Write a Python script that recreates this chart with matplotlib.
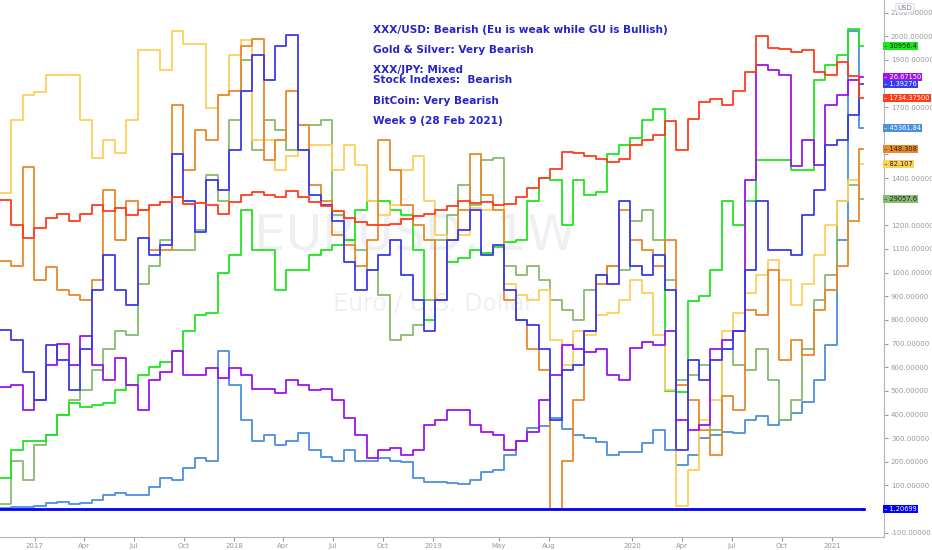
import matplotlib
matplotlib.use("Agg")
import matplotlib.pyplot as plt
import matplotlib.transforms as mtransforms
import pandas as pd

# weekly chart sampled every 3 weeks, values on the overlay "USD" scale
dates = pd.date_range("2016-10-29", periods=76, freq="21D")

gold = [1307, 1200, 1146, 1190, 1230, 1250, 1220, 1250, 1285, 1260,
        1275, 1245, 1265, 1285, 1300, 1320, 1290, 1295, 1285, 1250,
        1300, 1330, 1340, 1330, 1320, 1345, 1320, 1300, 1280, 1260,
        1230, 1215, 1200, 1200, 1205, 1225, 1240, 1250, 1265, 1280,
        1305, 1295, 1300, 1285, 1290, 1320, 1360, 1400, 1440, 1510,
        1505, 1495, 1480, 1470, 1480, 1540, 1560, 1580, 1640, 1520,
        1650, 1720, 1735, 1710, 1770, 1850, 2000, 1950, 1945, 1935,
        1940, 1850, 1835, 1890, 1830, 1739]

dow = [130, 250, 290, 290, 315, 400, 450, 430, 440, 450,
       505, 525, 565, 600, 620, 670, 755, 820, 830, 1000,
       1075, 1265, 1095, 1095, 925, 1010, 1010, 1075, 1095, 1115,
       1140, 1265, 1305, 1305, 1265, 1245, 1095, 800, 885, 1045,
       1060, 1095, 1085, 1110, 1130, 1140, 1305, 1400, 1390, 1200,
       1390, 1330, 1340, 1500, 1540, 1570, 1645, 1690, 500, 495,
       880, 900, 1010, 1305, 1200, 1305, 1475, 1475, 1475, 1435,
       1435, 1815, 1880, 1920, 2030, 1958]

silver = [515, 525, 420, 460, 610, 700, 610, 730, 610, 545,
          640, 525, 420, 545, 580, 670, 565, 565, 595, 555,
          595, 565, 510, 510, 490, 545, 525, 505, 510, 460,
          385, 315, 215, 250, 260, 230, 250, 355, 375, 420,
          420, 355, 325, 315, 250, 290, 325, 460, 565, 695,
          675, 665, 675, 565, 545, 680, 705, 695, 755, 375,
          335, 355, 675, 715, 755, 1390, 1880, 1855, 1835, 1450,
          1560, 1455, 1710, 1750, 1815, 1827]

gbpusd = [757, 715, 580, 460, 695, 630, 505, 675, 925, 1075,
          925, 865, 1145, 1075, 1115, 1500, 1305, 1170, 1390, 1350,
          1520, 1770, 1920, 1815, 1960, 2005, 1520, 1330, 1285, 1220,
          1045, 925, 1010, 1075, 1140, 990, 885, 755, 885, 1140,
          1180, 1265, 1075, 1115, 925, 800, 780, 675, 375, 590,
          610, 755, 990, 950, 1305, 1030, 990, 1075, 925, 250,
          630, 545, 630, 675, 755, 1010, 1305, 1095, 1095, 1075,
          1245, 1350, 1540, 1560, 1665, 1798]

btc = [5, 10, 10, 15, 25, 30, 20, 25, 40, 60,
       70, 60, 60, 95, 130, 125, 175, 215, 205, 670,
       525, 375, 290, 315, 270, 290, 320, 250, 220, 205,
       250, 205, 205, 215, 205, 200, 130, 115, 115, 110,
       105, 125, 155, 165, 230, 290, 345, 350, 385, 340,
       315, 300, 285, 230, 240, 240, 280, 335, 250, 185,
       230, 300, 315, 325, 320, 375, 395, 355, 375, 405,
       455, 545, 695, 1140, 2020, 1612]

gbpjpy = [1050, 1030, 1445, 970, 1025, 925, 905, 885, 970, 1350,
          1140, 1305, 1265, 1095, 1095, 1710, 1435, 1605, 1560, 1750,
          1770, 1960, 1990, 1475, 1560, 1770, 1625, 1370, 1305, 1160,
          1115, 1030, 1140, 1560, 1435, 1285, 1200, 1140, 885, 1140,
          1265, 1500, 1330, 1265, 885, 800, 675, 590, 0, 205,
          460, 755, 950, 1030, 1265, 1140, 1095, 1030, 1140, 525,
          460, 335, 230, 480, 420, 840, 820, 1010, 630, 715,
          650, 840, 925, 1030, 1220, 1523]

audjpy = [1335, 1645, 1750, 1765, 1835, 1835, 1835, 1645, 1485, 1560,
          1505, 1645, 1940, 1940, 1855, 2020, 1965, 1965, 1695, 1750,
          1920, 1985, 1560, 1560, 1435, 1495, 1520, 1540, 1540, 1435,
          1540, 1455, 1305, 1245, 1285, 1435, 1495, 1305, 1160, 1140,
          1160, 1275, 1265, 1285, 950, 905, 885, 925, 715, 610,
          755, 735, 820, 830, 885, 970, 915, 735, 505, 15,
          165, 375, 460, 755, 830, 915, 990, 1055, 970, 865,
          950, 1075, 1200, 1305, 1390, 1459]

nikkei = [20, 205, 125, 270, 315, 400, 460, 505, 590, 675,
          755, 735, 950, 1030, 1140, 1095, 1095, 1180, 1415, 1305,
          1645, 1900, 1520, 1645, 1605, 1520, 1625, 1625, 1645, 1245,
          1140, 1095, 1010, 905, 715, 735, 780, 885, 1140, 1245,
          1370, 1285, 1475, 1485, 1030, 990, 1030, 970, 885, 840,
          800, 925, 990, 1030, 1010, 1220, 1265, 1140, 970, 545,
          565, 610, 335, 675, 610, 590, 675, 545, 375, 460,
          675, 885, 990, 1305, 1370, 1311]

eur_dates = pd.to_datetime(["2016-10-29", "2017-01-01", "2017-04-01", "2017-07-01",
                            "2017-10-01", "2018-01-01", "2018-04-01", "2018-07-01",
                            "2018-10-01", "2019-01-01", "2019-04-01", "2019-07-01",
                            "2019-10-01", "2020-01-01", "2020-04-01", "2020-07-01",
                            "2020-10-01", "2021-01-01", "2021-02-28"])
eurusd = [1.09, 1.06, 1.07, 1.14, 1.18, 1.20, 1.23, 1.17, 1.16, 1.14,
          1.12, 1.14, 1.10, 1.12, 1.10, 1.12, 1.17, 1.22, 1.207]

series = [
    ("BTCUSD", btc, "#4b8fde", "45361.84", "white"),
    ("JP225", nikkei, "#86bb70", "29057.6", "#222222"),
    ("US30", dow, "#1ee61e", "30956.4", "#222222"),
    ("AUDJPY", audjpy, "#ffcf5c", "82.107", "#222222"),
    ("GBPJPY", gbpjpy, "#e8892b", "148.308", "#222222"),
    ("XAGUSD", silver, "#9a14f0", "26.67150", "white"),
    ("GBPUSD", gbpusd, "#3a3aee", "1.39276", "white"),
    ("XAUUSD", gold, "#ff3d1a", "1734.37500", "white"),
]

notes = ["XXX/USD: Bearish (Eu is weak while GU is Bullish)",
         "Gold & Silver: Very Bearish",
         "XXX/JPY: Mixed\nStock Indexes:  Bearish",
         "BitCoin: Very Bearish",
         "Week 9 (28 Feb 2021)"]

fig = plt.figure(figsize=(9.32, 5.5), dpi=100)
ax = fig.add_axes([0, 13 / 550, 884 / 932, 537 / 550])

end = dates[-1] + pd.Timedelta(days=7)
for name, vals, col, lab, tcol in series:
    ax.step(list(dates) + [end], vals + [vals[-1]], where="post", color=col, lw=1.3)
ax.step(list(eur_dates) + [end], eurusd + [eurusd[-1]], where="post", color="#0000ff", lw=2)

ax.set_xlim(pd.Timestamp("2016-10-29"), pd.Timestamp("2021-04-06"))
ax.set_ylim(-118, 2153)

# faint watermark
ax.text(0.47, 0.56, "EURUSD, 1W", transform=ax.transAxes, fontsize=36,
        color="#eef0f4", ha="center", va="center", zorder=0)
ax.text(0.49, 0.435, "Euro / U.S. Dollar", transform=ax.transAxes, fontsize=17,
        color="#eef0f4", ha="center", va="center", zorder=0)

# commentary
ypos = [30, 50, 75, 101, 121]
for txt, yp in zip(notes, ypos):
    ax.text(373 / 884, 1 - yp / 537, txt, transform=ax.transAxes, fontsize=7.6,
            color="#2626c8", ha="left", va="center", linespacing=0.95,
            fontweight="bold")

# axes styling
for s in ["top", "left"]:
    ax.spines[s].set_visible(False)
ax.spines["right"].set_color("#b2b5be")
ax.spines["bottom"].set_color("#b2b5be")
ax.yaxis.tick_right()
yt = list(range(-100, 2101, 100))
hidden = [0, 1300, 1500, 1600, 1800]  # sit under the last-price tags
ax.set_yticks(yt)
ax.set_yticklabels(["" if v in hidden else "%.5f" % v for v in yt])
ax.tick_params(axis="y", labelsize=5, colors="#9598a1", length=3, pad=2)

tick_dates = pd.to_datetime(["2017-01-01", "2017-04-01", "2017-07-01", "2017-10-01",
                             "2018-01-01", "2018-04-01", "2018-07-01", "2018-10-01",
                             "2019-01-01", "2019-05-01", "2019-08-01", "2020-01-01",
                             "2020-04-01", "2020-07-01", "2020-10-01", "2021-01-01"])
tick_labels = ["2017", "Apr", "Jul", "Oct", "2018", "Apr", "Jul", "Oct",
               "2019", "May", "Aug", "2020", "Apr", "Jul", "Oct", "2021"]
ax.set_xticks(tick_dates)
ax.set_xticklabels(tick_labels)
ax.tick_params(axis="x", labelsize=5, colors="#9598a1", length=3, pad=1.5)

# last-price tags on the price scale
trans = mtransforms.blended_transform_factory(ax.transAxes, ax.transData)
for name, vals, col, lab, tcol in series + [("EURUSD", [0], "#0000ff", "1.20699", "white")]:
    ax.text(1.0, vals[-1], "– " + lab, transform=trans, fontsize=4.8, color=tcol,
            ha="left", va="center", clip_on=False,
            bbox=dict(boxstyle="square,pad=0.15", fc=col, ec="none"))

fig.text(905 / 932, 1 - 8 / 550, "USD", fontsize=5, color="#787b86", ha="center",
         va="center", bbox=dict(boxstyle="round,pad=0.25", fc="white", ec="#d1d4dc", lw=0.6))

fig.savefig("out.png", dpi=100, facecolor="white")
